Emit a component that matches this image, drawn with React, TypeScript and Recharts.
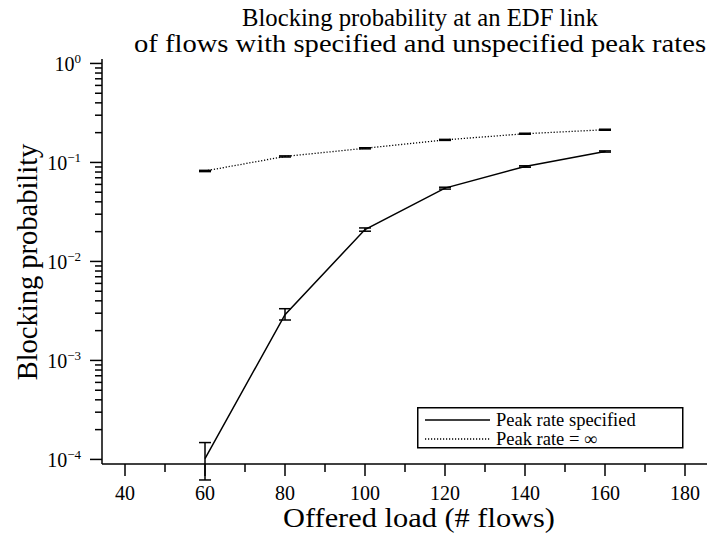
import React from 'react';
import { LineChart, Line, XAxis, YAxis, ErrorBar, Legend, Customized } from 'recharts';

const loads = [60, 80, 100, 120, 140, 160];
const peakSpecified = [1.02e-4, 2.9e-3, 2.1e-2, 5.5e-2, 9.1e-2, 1.29e-1];
const peakSpecifiedErr: [number, number][] = [
  [0.4e-4, 0.46e-4],
  [0.34e-3, 0.43e-3],
  [0.8e-3, 0.8e-3],
  [1.2e-3, 1.2e-3],
  [1.5e-3, 1.5e-3],
  [1.8e-3, 1.8e-3],
];
const peakInfinite = [0.082, 0.115, 0.139, 0.169, 0.195, 0.214];
const peakInfiniteErr = [0.0012, 0.0015, 0.0018, 0.002, 0.0022, 0.0025];

const xTicks = [40, 50, 60, 70, 80, 90, 100, 110, 120, 130, 140, 150, 160, 170, 180];
const yTicks: number[] = [];
for (let e = -4; e <= 0; e++) {
  for (let m = 1; m <= 9; m++) {
    const v = m * Math.pow(10, e);
    if (v <= 1.0000001) yTicks.push(Number(v.toPrecision(3)));
  }
}

const title1 = 'Blocking probability at an EDF link';
const title2 = 'of flows with specified and unspecified peak rates';
const xLabel = 'Offered load (# flows)';
const yLabel = 'Blocking probability';
const legendLabels = ['Peak rate specified', 'Peak rate = \u221e'];

const data = loads.map((x, i) => ({
  load: x,
  spec: peakSpecified[i],
  specErr: peakSpecifiedErr[i],
  inf: peakInfinite[i],
  infErr: peakInfiniteErr[i],
}));

const FONT = '"Liberation Serif", "Times New Roman", serif';

const XTick = (props: any) => {
  const { x, y, payload } = props;
  const v = payload.value;
  const major = v % 20 === 0;
  return (
    <g>
      <line x1={x} x2={x} y1={y} y2={y + (major ? 12 : 8)} stroke="#000" strokeWidth={1.5} />
      {major && (
        <text x={x} y={y + 36} textAnchor="middle" fontSize={20} fontFamily={FONT} fill="#000">
          {v}
        </text>
      )}
    </g>
  );
};

const YTick = (props: any) => {
  const { x, y, payload } = props;
  const v = payload.value;
  const lg = Math.log10(v);
  const major = Math.abs(lg - Math.round(lg)) < 1e-6;
  const exp = Math.round(lg);
  return (
    <g>
      <line x1={x} x2={x - (major ? 12 : 7)} y1={y} y2={y} stroke="#000" strokeWidth={1.5} />
      {major && (
        <text x={x - 21} y={y + 8} textAnchor="end" fontSize={20} fontFamily={FONT} fill="#000">
          10
          <tspan dy={-8} fontSize={13}>{exp === 0 ? '0' : '\u2212' + Math.abs(exp)}</tspan>
        </text>
      )}
    </g>
  );
};

const LegendBox = () => (
  <svg width={268} height={44} style={{ display: 'block', overflow: 'visible' }}>
    <rect x={0.75} y={0.75} width={265} height={40} fill="#fff" stroke="#000" strokeWidth={1.5} />
    {legendLabels.map((label, i) => (
      <g key={label}>
        <line
          x1={8}
          x2={73}
          y1={13 + i * 19}
          y2={13 + i * 19}
          stroke="#000"
          strokeWidth={i === 0 ? 1.5 : 1.3}
          strokeDasharray={i === 0 ? undefined : '1.2 1.8'}
        />
        <text x={79} y={19 + i * 19} fontSize={18.5} fontFamily={FONT} fill="#000">
          {label}
        </text>
      </g>
    ))}
  </svg>
);

const Titles = () => (
  <g fontFamily={FONT} fill="#000">
    <text x={420} y={26} textAnchor="middle" fontSize={24.5} textLength={356} lengthAdjust="spacingAndGlyphs">
      {title1}
    </text>
    <text x={420} y={52} textAnchor="middle" fontSize={24.5} textLength={572} lengthAdjust="spacingAndGlyphs">
      {title2}
    </text>
    <text x={419} y={527} textAnchor="middle" fontSize={28} textLength={272} lengthAdjust="spacingAndGlyphs">
      {xLabel}
    </text>
    <text x={37} y={262} textAnchor="middle" fontSize={28.5} transform="rotate(-90 37 262)">
      {yLabel}
    </text>
  </g>
);

export default function App() {
  return (
    <div style={{ position: 'absolute', left: 0, top: 0, width: 707, height: 534, background: '#fff' }}>
      <LineChart width={707} height={534} data={data} margin={{ top: 59, right: 0, bottom: 0, left: 0 }}>
        <XAxis
          dataKey="load"
          type="number"
          domain={[34.25, 185.5]}
          ticks={xTicks}
          allowDataOverflow
          height={70}
          tickSize={0}
          tickMargin={0}
          tickLine={false}
          tick={<XTick />}
          interval={0}
          axisLine={{ stroke: '#000', strokeWidth: 1.5 }}
        />
        <XAxis
          xAxisId="top"
          orientation="top"
          dataKey="load"
          type="number"
          domain={[34.25, 185.5]}
          height={0}
          tick={false}
          tickLine={false}
          axisLine={{ stroke: '#000', strokeWidth: 1.5 }}
        />
        <YAxis
          scale="log"
          type="number"
          domain={[8.99e-5, 1.109]}
          allowDataOverflow
          ticks={yTicks}
          width={102}
          tickSize={0}
          tickMargin={0}
          tickLine={false}
          tick={<YTick />}
          interval={0}
          axisLine={{ stroke: '#000', strokeWidth: 1.5 }}
        />
        <Line
          dataKey="spec"
          stroke="#000"
          strokeWidth={1.5}
          dot={false}
          isAnimationActive={false}
        >
          <ErrorBar dataKey="specErr" width={6} stroke="#000" strokeWidth={1.5} direction="y" />
        </Line>
        <Line
          dataKey="inf"
          stroke="#000"
          strokeWidth={1.3}
          strokeDasharray="1.2 1.8"
          dot={false}
          isAnimationActive={false}
        >
          <ErrorBar dataKey="infErr" width={6} stroke="#000" strokeWidth={1.5} direction="y" />
        </Line>
        <Legend
          content={<LegendBox />}
          layout="horizontal"
          verticalAlign="middle"
          align="center"
          wrapperStyle={{ position: 'absolute', left: 417, top: 407, width: 'auto' }}
        />
        <Customized component={Titles} />
      </LineChart>
    </div>
  );
}
